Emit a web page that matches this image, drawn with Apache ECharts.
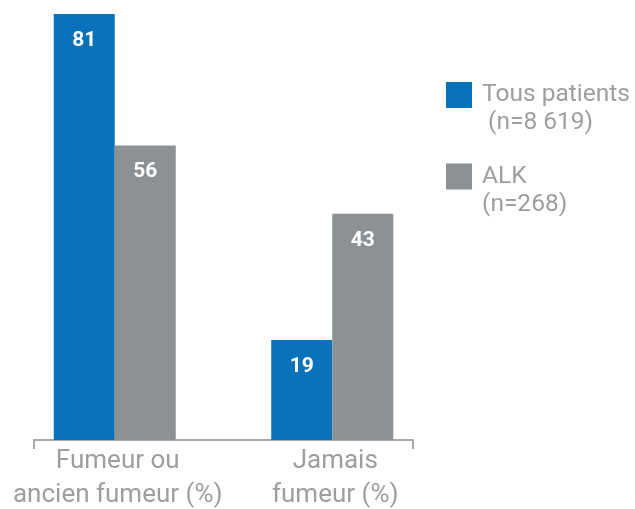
<!DOCTYPE html>
<html>
<head>
<meta charset="utf-8">
<script src="https://cdn.jsdelivr.net/npm/echarts@6/dist/echarts.min.js"></script>
<style>
  html, body { margin: 0; padding: 0; background: #fff; }
  #chart-container { width: 635px; height: 509px; }
</style>
</head>
<body>
<div id="chart-container"></div>
<script>
var categories = ["Fumeur ou\nancien fumeur (%)", "Jamais\nfumeur (%)"];
var seriesNames = ["Tous patients", "ALK"];
var seriesCounts = ["(n=8 619)", "(n=268)"];
var allPatients = [81, 19];
var alkPatients = [56, 43];

var dom = document.getElementById("chart-container");
var myChart = echarts.init(dom, null, { renderer: "canvas" });

var blue = "#0a72ba";
var gray = "#8d9194";
var textGray = "#9c9ea0";
var font = "Roboto, 'Liberation Sans', sans-serif";

var barLabel = {
  show: true,
  position: "insideTop",
  distance: 16,
  color: "#fff",
  fontSize: 21,
  fontWeight: "bold",
  fontFamily: font,
};

var option = {
  animation: false,
  grid: [
    { left: 6, right: 194, top: 14, bottom: 69, outerBoundsMode: "none" },
    { left: 34, right: 222, top: 14, bottom: 69, outerBoundsMode: "none" },
  ],
  legend: {
    orient: "vertical",
    left: 446,
    top: 56,
    padding: 0,
    itemWidth: 26,
    itemHeight: 26,
    itemGap: 2,
    icon: "rect",
    data: seriesNames,
    formatter: function (name) {
      var i = seriesNames.indexOf(name);
      var sub = i === 0 ? " " + seriesCounts[i] : seriesCounts[i];
      return "{p| }\n{a|" + name + "}\n{b|" + sub + "}";
    },
    textStyle: {
      color: textGray,
      fontFamily: font,
      rich: {
        p: { fontSize: 22, lineHeight: 28 },
        a: { fontSize: 24.5, lineHeight: 28, color: textGray, fontFamily: font, padding: [0, 0, 0, 5] },
        b: { fontSize: 24.5, lineHeight: 28, color: textGray, fontFamily: font, padding: [0, 0, 0, 5] },
      },
    },
  },
  xAxis: [
    {
      type: "category",
      gridIndex: 0,
      data: categories,
      axisLine: { show: false },
      axisTick: { show: false },
      axisLabel: {
        interval: 0,
        margin: 4,
        padding: [0, 0, 0, 6],
        color: textGray,
        fontSize: 26,
        lineHeight: 34,
        fontFamily: font,
      },
    },
    {
      type: "value",
      gridIndex: 1,
      min: 0,
      max: 1,
      interval: 1,
      axisLine: { show: true, lineStyle: { color: "#a6a8aa", width: 2 } },
      axisTick: { show: true, length: 9, lineStyle: { color: "#a6a8aa", width: 2 } },
      axisLabel: { show: false },
      splitLine: { show: false },
    },
  ],
  yAxis: [
    { type: "value", gridIndex: 0, min: 0, max: 81, show: false, splitLine: { show: false } },
    { type: "value", gridIndex: 1, min: 0, max: 1, show: false, splitLine: { show: false } },
  ],
  series: [
    {
      name: seriesNames[0],
      type: "bar",
      xAxisIndex: 0,
      yAxisIndex: 0,
      barWidth: 61,
      barGap: "0%",
      itemStyle: { color: blue },
      label: barLabel,
      data: allPatients,
    },
    {
      name: seriesNames[1],
      type: "bar",
      xAxisIndex: 0,
      yAxisIndex: 0,
      barWidth: 61,
      barGap: "0%",
      itemStyle: { color: gray },
      label: barLabel,
      data: alkPatients,
    },
  ],
};

myChart.setOption(option);
window.addEventListener("resize", myChart.resize);
</script>
</body>
</html>
